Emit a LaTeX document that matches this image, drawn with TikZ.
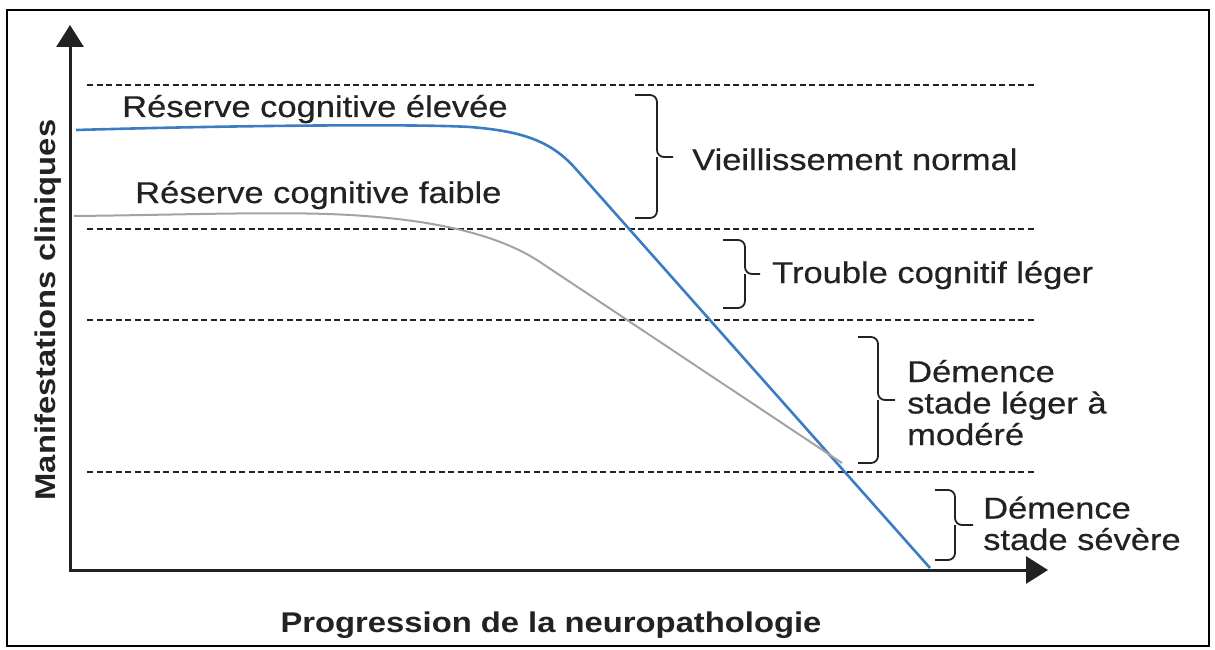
\documentclass[tikz,border=0pt]{standalone}
\usepackage{fontspec}
\setmainfont[FakeStretch=1.15, UprightFeatures={FakeBold=0.5}]{Liberation Sans}
\usetikzlibrary{arrows.meta}
\definecolor{curveblue}{HTML}{3C7CC4}
\definecolor{curvegray}{HTML}{A3A3A3}
\definecolor{ink}{HTML}{222222}
\begin{document}
\begin{tikzpicture}[x=1pt,y=-1pt,
  lbl/.style={inner sep=0pt, anchor=base west, text=ink, align=left, font=\fontsize{30}{31.5}\selectfont},
  axlbl/.style={inner sep=0pt, text=ink, font=\fontsize{28.5}{30}\selectfont\bfseries},
  guide/.style={dash pattern=on 6pt off 3.5pt, line width=1.8pt, draw=ink},
  bracestyle/.style={line width=1.8pt, draw=ink, rounded corners=7pt},
  axis/.style={line width=3pt, draw=ink, {Triangle[length=22pt,width=27pt]}-{Triangle[length=22pt,width=27pt]}},
  bluecurve/.style={draw=curveblue, line width=2.6pt},
  graycurve/.style={draw=curvegray, line width=2pt},
]
\useasboundingbox (0,0) rectangle (1215,650);
\draw[line width=2pt, draw=black] (7,10) rectangle (1209,646);

% axes
\coordinate (O) at (70,570);
\coordinate (Ytip) at (70,25);
\coordinate (Xtip) at (1048,570);
\draw[axis] (Ytip) -- (O) -- (Xtip);

% dashed stage limits
\foreach \yy [count=\i] in {85,229,320,472} {
  \coordinate (gl\i) at (87,\yy);
  \coordinate (gr\i) at (1036,\yy);
  \draw[guide] (gl\i) -- (gr\i);
}

% curves
\coordinate (bs) at (76,130);
\coordinate (be) at (930,568);
\draw[bluecurve] (bs) .. controls (250,125) and (420,124) .. (470,127)
  .. controls (520,131) and (550,140) .. (575,168) -- (be);
\coordinate (gs) at (74,216);
\coordinate (ge) at (842,463);
\draw[graycurve] (gs) .. controls (180,215) and (280,211) .. (350,215)
  .. controls (400,218) and (486,226) .. (540,262) -- (ge);

% braces
\draw[bracestyle] (635,95) -- (657,95) -- (657,157) -- (673,157);
\draw[bracestyle] (635,218) -- (657,218) -- (657,157);
\draw[bracestyle] (723,240) -- (745,240) -- (745,274) -- (760,274);
\draw[bracestyle] (723,308) -- (745,308) -- (745,274);
\draw[bracestyle] (858,337) -- (878,337) -- (878,400) -- (895,400);
\draw[bracestyle] (858,463) -- (878,463) -- (878,400);
\draw[bracestyle] (935,490) -- (955,490) -- (955,525) -- (973,525);
\draw[bracestyle] (935,560) -- (955,560) -- (955,525);

% labels
\node[lbl] (high) at (122,117) {Réserve cognitive élevée};
\node[lbl] (low) at (135,203) {Réserve cognitive faible};
\node[lbl] (normal) at (692,170) {Vieillissement normal};
\node[lbl] (mci) at (772,283) {Trouble cognitif léger};
\node[lbl] (mild) at (907,445) {Démence\\stade léger à\\modéré};
\node[lbl] (severe) at (983,550) {Démence\\stade sévère};
\node[axlbl, rotate=90] (ylab) at (48,310) {Manifestations cliniques};
\node[axlbl, anchor=base] (xlab) at (551,632) {Progression de la neuropathologie};
\end{tikzpicture}
\end{document}
